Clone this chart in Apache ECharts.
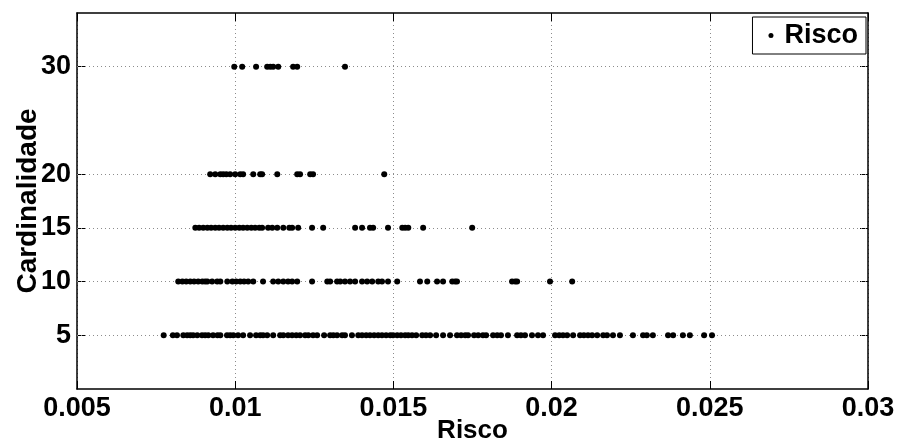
<!DOCTYPE html>
<html>
<head>
<meta charset="utf-8">
<script src="https://cdn.jsdelivr.net/npm/echarts@6/dist/echarts.min.js"></script>
<style>
  html, body { margin: 0; padding: 0; background: #fff; }
  #chart { width: 898px; height: 445px; }
</style>
</head>
<body>
<div id="chart"></div>
<script>
// Risk values (x) observed for each portfolio cardinality (y)
const risco5 = [0.00774, 0.00803, 0.00816, 0.00836, 0.00848, 0.00858, 0.00867, 0.0088, 0.00895, 0.00905,
  0.00915, 0.0093, 0.00944, 0.00953, 0.00974, 0.00984, 0.00994, 0.01009, 0.01025, 0.01047,
  0.01066, 0.01079, 0.01088, 0.01101, 0.0112, 0.01142, 0.01152, 0.01167, 0.0118, 0.01193,
  0.01205, 0.01221, 0.01231, 0.01246, 0.01259, 0.01281, 0.013, 0.0131, 0.01322, 0.01338,
  0.01347, 0.01369, 0.01389, 0.01401, 0.01414, 0.01426, 0.01439, 0.01452, 0.01464, 0.01477,
  0.0149, 0.01499, 0.01512, 0.01524, 0.01537, 0.01547, 0.01559, 0.01572, 0.01591, 0.01603,
  0.01616, 0.01635, 0.01657, 0.01679, 0.01701, 0.01714, 0.01727, 0.01736, 0.01755, 0.01768,
  0.01783, 0.01793, 0.01815, 0.01828, 0.0184, 0.01862, 0.01891, 0.01903, 0.01916, 0.01938,
  0.01957, 0.01973, 0.02011, 0.02024, 0.02036, 0.02049, 0.02068, 0.0209, 0.02102, 0.02115,
  0.02128, 0.02144, 0.02163, 0.02175, 0.02194, 0.02216, 0.02257, 0.02289, 0.02301, 0.0232,
  0.02368, 0.02384, 0.02415, 0.02437, 0.02482, 0.02507];
const risco10 = [0.0082, 0.00833, 0.00845, 0.00858, 0.0087, 0.00883, 0.00896, 0.00905, 0.00912, 0.00927,
  0.00943, 0.00953, 0.00975, 0.00991, 0.01003, 0.01016, 0.01028, 0.01041, 0.01057, 0.01088,
  0.0112, 0.01136, 0.01152, 0.01167, 0.0118, 0.01196, 0.01243, 0.01291, 0.013, 0.01322,
  0.01332, 0.01347, 0.01363, 0.01379, 0.01401, 0.01417, 0.01433, 0.01452, 0.01464, 0.01483,
  0.01512, 0.01584, 0.01607, 0.01638, 0.01657, 0.01686, 0.01695, 0.01701, 0.01875, 0.01885,
  0.01891, 0.01995, 0.02065];
const risco15 = [0.00874, 0.00886, 0.00899, 0.00912, 0.00924, 0.00937, 0.00949, 0.00962, 0.00975, 0.00987,
  0.01, 0.01013, 0.01025, 0.01038, 0.01051, 0.01063, 0.01076, 0.01085, 0.01104, 0.01117,
  0.01133, 0.01152, 0.01171, 0.0118, 0.01199, 0.01243, 0.01278, 0.01379, 0.01401, 0.01426,
  0.01436, 0.01483, 0.01528, 0.01537, 0.01547, 0.01594, 0.01749];
const risco20 = [0.00921, 0.00937, 0.00953, 0.00962, 0.00972, 0.00984, 0.01, 0.01016, 0.01025, 0.01057,
  0.01079, 0.01085, 0.01133, 0.01196, 0.01205, 0.01237, 0.01246, 0.01471];
const risco30 = [0.00997, 0.01022, 0.01066, 0.01101, 0.01111, 0.0112, 0.01136, 0.01183, 0.01196, 0.01347];

const cardinalidades = [5, 10, 15, 20, 30];
const riscoPorCardinalidade = [risco5, risco10, risco15, risco20, risco30];

// y-axis ticks and axis ranges
const yTicks = [5, 10, 15, 20, 30];
const xMin = 0.005, xMax = 0.03, xStep = 0.005;
const yMin = 0, yMax = 35;

const points = [];
cardinalidades.forEach(function (k, i) {
  riscoPorCardinalidade[i].forEach(function (r) { points.push([r, k]); });
});

const FONT = 'Liberation Sans, Arial, Helvetica, sans-serif';
const gridDots = { color: '#8c8c8c', width: 1, type: [1, 3] };
const frame = { show: true, onZero: false, lineStyle: { color: '#000', width: 1.5 } };

const chart = echarts.init(document.getElementById('chart'));
chart.setOption({
  animation: false,
  backgroundColor: '#fff',
  grid: { left: 77, right: 30, top: 13, bottom: 56, containLabel: false, outerBoundsMode: 'none' },
  legend: {
    data: ['Risco'],
    right: 32, top: 17,
    orient: 'horizontal',
    backgroundColor: '#fff',
    borderColor: '#000', borderWidth: 1,
    padding: [5, 8, 5, 16],
    icon: 'circle', itemWidth: 5, itemHeight: 5,
    itemStyle: { opacity: 1, color: '#000' },
    textStyle: { fontFamily: FONT, fontWeight: 'bold', fontSize: 27, color: '#000', padding: [0, 0, 0, 6] }
  },
  xAxis: [{
    type: 'value', min: xMin, max: xMax, interval: xStep,
    name: 'Risco', nameLocation: 'middle', nameGap: 29, nameMoveOverlap: false,
    nameTextStyle: { fontFamily: FONT, fontWeight: 'bold', fontSize: 26, color: '#000' },
    axisLine: frame,
    axisTick: { show: true, inside: true, length: 8, lineStyle: { color: '#000', width: 1 } },
    axisLabel: {
      fontFamily: FONT, fontWeight: 'bold', fontSize: 27, color: '#000', margin: 6,
      formatter: function (v) { return String(+v.toFixed(3)); }
    },
    splitLine: { show: true, lineStyle: gridDots }
  }, {
    type: 'value', position: 'top', min: xMin, max: xMax, interval: xStep,
    axisLine: frame,
    axisTick: { show: true, inside: true, length: 8, lineStyle: { color: '#000', width: 1 } },
    axisLabel: { show: false },
    splitLine: { show: false }
  }],
  yAxis: [{
    type: 'value', min: yMin, max: yMax, interval: 5,
    name: 'Cardinalidade', nameLocation: 'middle', nameGap: 35, nameMoveOverlap: false,
    nameTextStyle: { fontFamily: FONT, fontWeight: 'bold', fontSize: 28, color: '#000' },
    axisLine: frame,
    axisTick: { show: true, inside: true, length: 8, customValues: yTicks, lineStyle: { color: '#000', width: 1 } },
    axisLabel: {
      fontFamily: FONT, fontWeight: 'bold', fontSize: 27, color: '#000', margin: 6,
      customValues: yTicks,
      formatter: function (v) { return yTicks.indexOf(v) >= 0 ? String(v) : ''; }
    },
    splitLine: { show: false }
  }, {
    type: 'value', position: 'right', min: yMin, max: yMax, interval: 5,
    axisLine: frame,
    axisTick: { show: true, inside: true, length: 8, customValues: yTicks, lineStyle: { color: '#000', width: 1 } },
    axisLabel: { show: false },
    splitLine: { show: false }
  }],
  series: [{
    name: 'Risco',
    type: 'scatter',
    xAxisIndex: 0, yAxisIndex: 0,
    symbol: 'circle', symbolSize: 6,
    itemStyle: { color: '#000', opacity: 1 },
    data: points,
    z: 3,
    markLine: {
      silent: true, symbol: 'none', animation: false,
      label: { show: false },
      lineStyle: gridDots,
      z: 1,
      data: yTicks.map(function (t) { return { yAxis: t }; })
    }
  }]
});
</script>
</body>
</html>
